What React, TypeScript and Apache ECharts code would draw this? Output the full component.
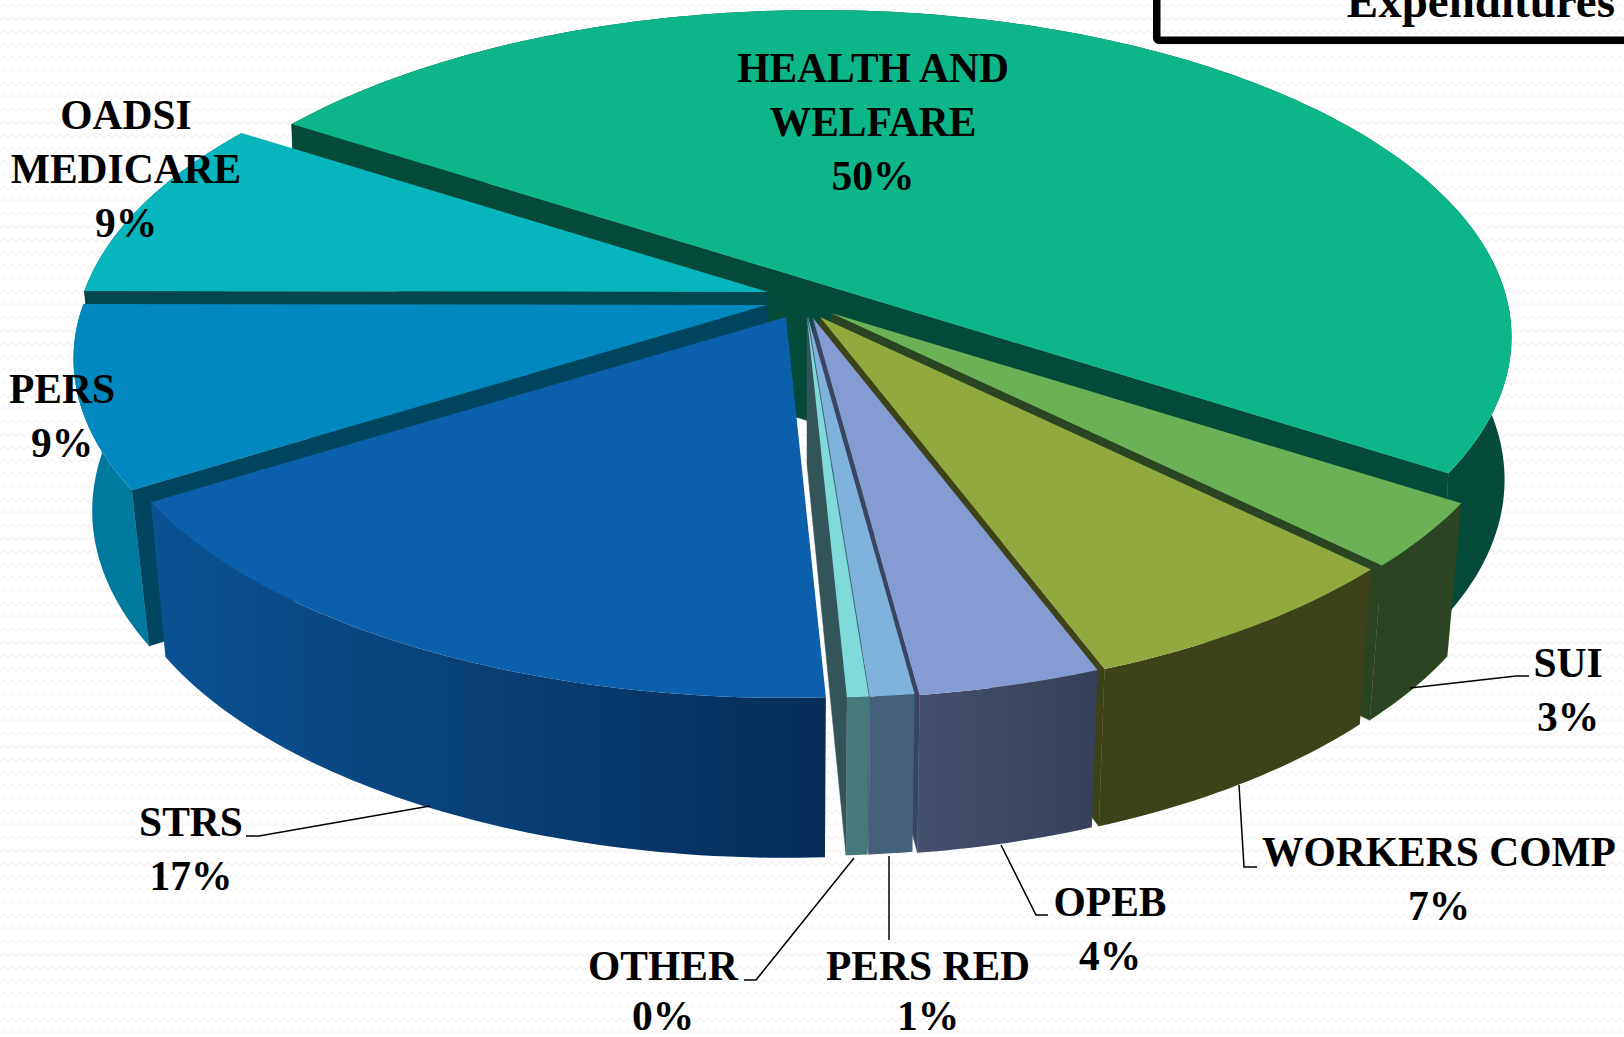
import React, { useEffect, useRef } from "react";
import * as echarts from "echarts";

const categories = ["HEALTH AND\nWELFARE", "SUI", "WORKERS COMP", "OPEB", "PERS RED", "OTHER", "STRS", "PERS", "OADSI\nMEDICARE"];
const values = [50, 3.22, 6.89, 3.64, 0.875, 0.43, 16.86, 8.97, 9.11];
const percentLabels = ["50%", "3%", "7%", "4%", "1%", "0%", "17%", "9%", "9%"];

const START_DEG = 213;
const R = 684, RY = 318, PERSP = 0.165;
const depthAt = (y: number) => 147 + 11 * y;

const centers = [[818, 283], [831, 313], [820, 317], [813, 318], [808, 317], [807, 317], [786, 317], [767, 305], [768, 292]];
const extraDepth = [-6, 0, 0, 0, 0, 0, 2, 3, 0];
const bottomScale = [0.99, 0.978, 0.98, 0.98, 0.98, 0.98, 0.977, 0.973, 0.98];
const drawOrder = [0, 8, 7, 1, 2, 3, 4, 5, 6];
const topColors = ["#0db688", "#6cb156", "#91a93f", "#859cd3", "#7fb3dc", "#7fdad9", "#0b5fab", "#0088bf", "#07b6bd"];
const cutColors = ["#034a38", "#2b4522", "#3d4218", "#3c4463", "#44607a", "#345558", "#07305e", "#004560", "#03464e"];
const wallColors: (string | [string, string])[] = ["#034a38", "#2b4522", "#3d4218", ["#454f6e", "#364059"], "#44607a", "#47787a", ["#0a5293", "#062d58"], "#00799f", "#03464e"];

const labelPos = [[873, 68], [1568, 663], [1439, 852], [1110, 902], [928, 966], [663, 966], [191, 822], [62, 389], [126, 115]];
const LINE_H = 54;
const MAX_LABEL_Y = 1016;
const leaders = [
  [[246, 836], [259, 836], [430, 806]],
  [[744, 980], [756, 980], [854, 858]],
  [[889, 856], [889, 940]],
  [[1001, 845], [1036, 915], [1048, 915]],
  [[1239, 785], [1244, 867], [1257, 867]],
  [[1410, 688], [1516, 676], [1529, 676]],
];

const total = values.reduce((a, b) => a + b, 0);
const angles: [number, number][] = [];
{
  let a = START_DEG;
  values.forEach((v) => {
    const b = a + (v / total) * 360;
    angles.push([a, b]);
    a = b;
  });
}

function top(c: number[], deg: number, r = 1) {
  const t = (deg * Math.PI) / 180;
  const X = r * Math.cos(t), Y = r * Math.sin(t);
  const w = 1 / (1 - PERSP * Y);
  return [c[0] + R * X * w, c[1] + RY * Y * w];
}
function bottom(i: number, deg: number, r = 1) {
  const c = centers[i];
  const p = top(c, deg, r);
  const t = (deg * Math.PI) / 180;
  return [c[0] + (p[0] - c[0]) * bottomScale[i], p[1] + depthAt(r * Math.sin(t)) + extraDepth[i]];
}

function renderItem(_params: any, api: any) {
  const i = api.value(1) as number;
  const c = centers[i];
  const [a0, a1] = angles[i];
  const children: any[] = [];
  const cut = cutColors[i];
  const face = (deg: number) => ({
    type: "polygon",
    silent: true,
    shape: { points: [c, top(c, deg), bottom(i, deg), bottom(i, deg, 0)] },
    style: { fill: cut, stroke: cut, lineWidth: 0.5 },
  });
  if (Math.cos((a0 * Math.PI) / 180) < 0) children.push(face(a0));
  if (Math.cos((a1 * Math.PI) / 180) > 0) children.push(face(a1));
  const steps = Math.max(2, Math.ceil(a1 - a0));
  const arc: number[] = [];
  for (let s = 0; s <= steps; s++) arc.push(a0 + ((a1 - a0) * s) / steps);
  const wall = wallColors[i];
  const wallFill = Array.isArray(wall)
    ? new echarts.graphic.LinearGradient(0, 0, 1, 0, [{ offset: 0, color: wall[0] }, { offset: 1, color: wall[1] }])
    : wall;
  children.push({
    type: "polygon",
    silent: true,
    shape: { points: [...arc.map((d) => top(c, d)), ...arc.slice().reverse().map((d) => bottom(i, d))] },
    style: { fill: wallFill },
  });
  children.push({
    type: "polygon",
    silent: true,
    shape: { points: [c, ...arc.map((d) => top(c, d))] },
    style: { fill: topColors[i] },
  });
  return { type: "group", children };
}

const FONT = 'bold 41.5px "Liberation Serif", serif';
const TITLE_FONT = 'bold 47px "Liberation Serif", serif';
const PATTERN =
  "url(\"data:image/svg+xml," +
  encodeURIComponent(
    '<svg xmlns="http://www.w3.org/2000/svg" width="16" height="13"><polyline points="0,8 4,4 8,8 12,4 16,8" fill="none" stroke="#f5f5f5" stroke-width="1.5"/></svg>'
  ) +
  "\")";

export default function App() {
  const ref = useRef<HTMLDivElement>(null);
  useEffect(() => {
    document.body.style.margin = "0";
    const chart = echarts.init(ref.current!, undefined, { renderer: "svg" });
    const labels: any[] = [];
    categories.forEach((name, i) => {
      const lines = [...name.split("\n"), percentLabels[i]];
      lines.forEach((text, k) => {
        labels.push({
          type: "text",
          x: labelPos[i][0],
          y: Math.min(labelPos[i][1] + k * LINE_H, MAX_LABEL_Y),
          z: 10,
          silent: true,
          style: { text, fill: "#000", font: FONT, align: "center", verticalAlign: "middle" },
        });
      });
    });
    const lines = leaders.map((points) => ({
      type: "polyline",
      z: 9,
      silent: true,
      shape: { points },
      style: { stroke: "#000", lineWidth: 1.5, fill: "none" },
    }));
    chart.setOption({
      animation: false,
      backgroundColor: "transparent",
      series: [
        {
          type: "custom",
          coordinateSystem: "none",
          renderItem,
          clip: false,
          silent: true,
          data: drawOrder.map((i) => ({ name: categories[i], value: [values[i], i] })),
        },
      ],
      graphic: [
        {
          type: "rect",
          z: 9,
          silent: true,
          shape: { x: 1156.75, y: -20, width: 600, height: 60.25, r: 2 },
          style: { fill: "none", stroke: "#000", lineWidth: 7.5 },
        },
        {
          type: "text",
          x: 1615,
          y: 24,
          z: 10,
          silent: true,
          style: { text: "Expenditures", fill: "#000", font: TITLE_FONT, align: "right", verticalAlign: "bottom" },
        },
        ...lines,
        ...labels,
      ],
    });
    return () => chart.dispose();
  }, []);
  return <div ref={ref} style={{ width: 1624, height: 1037, overflow: "hidden", backgroundColor: "#fff", backgroundImage: PATTERN }} />;
}
